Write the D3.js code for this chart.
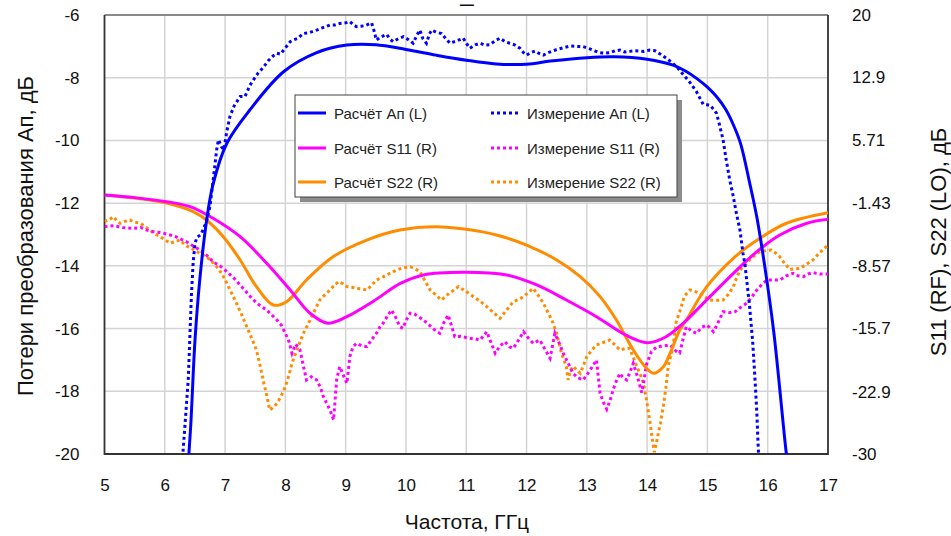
<!DOCTYPE html>
<html lang="ru">
<head>
<meta charset="utf-8" />
<title>Потери преобразования</title>
<script src="https://cdn.jsdelivr.net/npm/d3@7/dist/d3.min.js"></script>
<style>
  body { margin: 0; background: #fff; }
  text { font-family: "Liberation Sans", Arial, sans-serif; }
</style>
</head>
<body>
<script>
// ---- data (GHz / dB) ----
var xTicks = [5, 6, 7, 8, 9, 10, 11, 12, 13, 14, 15, 16, 17];
var leftTicks = [-20, -18, -16, -14, -12, -10, -8, -6];
var rightTicks = ["-30", "-22.9", "-15.7", "-8.57", "-1.43", "5.71", "12.9", "20"];

// calculated conversion loss (left axis)
var apCalcF = [6.38, 6.43, 6.50, 6.58, 6.69, 6.80, 7.03, 7.41, 7.97, 8.52, 9.02, 9.5, 10.0, 10.5, 11.0, 11.5, 12.0, 12.4, 13.0, 13.45, 14.0, 14.43, 14.65, 14.82, 15.0, 15.15, 15.3, 15.43, 15.55, 15.7, 15.82, 15.95, 16.1, 16.29, 16.34];
var apCalc = [-20.5, -19.1, -16.4, -14.45, -12.6, -11.4, -10.09, -9.03, -7.81, -7.2, -6.96, -6.95, -7.1, -7.28, -7.44, -7.56, -7.57, -7.47, -7.36, -7.33, -7.41, -7.6, -7.8, -8.02, -8.3, -8.6, -9.0, -9.5, -10.1, -11.35, -12.45, -14.0, -16.1, -19.66, -20.5];

// measured conversion loss (left axis)
var apMeasF = [6.28, 6.33, 6.39, 6.44, 6.47, 6.50, 6.53, 6.60, 6.69, 6.75, 6.80, 6.86, 6.89, 6.94, 6.98, 7.03, 7.08, 7.15, 7.25, 7.33, 7.41, 7.47, 7.55, 7.63, 7.72, 7.80, 7.86, 7.92, 8.0, 8.08, 8.13, 8.2, 8.3, 8.4, 8.52, 8.6, 8.74, 8.82, 8.9, 9.0, 9.07, 9.13, 9.18, 9.25, 9.32, 9.43, 9.47, 9.51, 9.58, 9.68, 9.74, 9.79, 9.88, 9.96, 10.05, 10.12, 10.18, 10.23, 10.28, 10.34, 10.39, 10.43, 10.5, 10.59, 10.66, 10.73, 10.85, 10.95, 11.0, 11.06, 11.15, 11.23, 11.31, 11.39, 11.48, 11.56, 11.64, 11.72, 11.8, 11.89, 11.95, 12.0, 12.07, 12.14, 12.2, 12.28, 12.36, 12.43, 12.5, 12.6, 12.72, 12.83, 12.94, 13.05, 13.14, 13.22, 13.3, 13.38, 13.47, 13.55, 13.63, 13.71, 13.8, 13.94, 14.04, 14.13, 14.22, 14.32, 14.4, 14.49, 14.6, 14.71, 14.82, 14.93, 15.04, 15.1, 15.15, 15.2, 15.26, 15.31, 15.37, 15.43, 15.48, 15.54, 15.59, 15.62, 15.66, 15.70, 15.75, 15.79, 15.82, 15.84, 15.86];
var apMeas = [-20.5, -19.2, -17.6, -15.0, -13.9, -13.3, -13.1, -13.0, -12.6, -12.1, -11.3, -10.3, -9.98, -10.2, -10.3, -9.7, -9.24, -8.9, -8.6, -8.6, -8.25, -8.07, -7.85, -7.68, -7.45, -7.3, -7.22, -7.25, -7.05, -6.85, -6.8, -6.75, -6.59, -6.56, -6.48, -6.42, -6.32, -6.32, -6.27, -6.25, -6.21, -6.32, -6.37, -6.36, -6.34, -6.25, -6.5, -6.8, -6.7, -6.62, -6.78, -6.85, -6.75, -6.69, -6.8, -6.9, -6.65, -6.48, -6.75, -6.9, -6.6, -6.48, -6.55, -6.59, -6.75, -6.9, -6.82, -6.74, -6.9, -7.06, -6.95, -6.9, -6.96, -6.95, -6.82, -6.74, -6.85, -6.9, -6.95, -7.06, -7.2, -7.28, -7.2, -7.15, -7.22, -7.28, -7.2, -7.15, -7.1, -7.05, -6.99, -7.0, -7.01, -7.08, -7.15, -7.2, -7.22, -7.2, -7.14, -7.12, -7.18, -7.16, -7.14, -7.16, -7.12, -7.14, -7.25, -7.38, -7.5, -7.65, -7.9, -8.15, -8.45, -8.85, -8.87, -9.0, -9.13, -9.5, -9.98, -10.6, -11.26, -11.8, -12.32, -12.86, -13.6, -13.92, -14.6, -15.3, -16.4, -17.64, -18.7, -19.66, -20.5];

// calculated S11, S22 (right axis)
var s11CalcF = [5, 5.5, 6.03, 6.42, 6.8, 7.25, 7.69, 8.08, 8.41, 8.7, 9.02, 9.46, 9.9, 10.29, 10.95, 11.67, 12.17, 12.66, 13.16, 13.66, 14.0, 14.3, 14.6, 15.04, 15.43, 15.82, 16.2, 16.65, 17];
var s11Calc = [-0.5, -0.8, -1.26, -1.83, -3.15, -5.25, -8.28, -11.32, -13.97, -15.1, -14.36, -12.6, -10.6, -9.61, -9.3, -9.61, -10.75, -12.46, -14.36, -16.5, -17.32, -16.7, -15.1, -12.08, -9.42, -6.96, -5.06, -3.72, -3.27];
var s22CalcF = [5, 5.5, 6.03, 6.47, 6.69, 6.97, 7.25, 7.52, 7.8, 8.02, 8.35, 8.79, 9.35, 9.9, 10.5, 11.0, 11.5, 12.0, 12.5, 12.89, 13.22, 13.49, 13.77, 13.99, 14.1, 14.27, 14.38, 14.54, 14.65, 14.99, 15.43, 15.87, 16.31, 17];
var s22Calc = [-0.5, -0.85, -1.41, -2.4, -3.35, -5.25, -7.9, -10.94, -13.03, -12.65, -10.18, -7.53, -5.63, -4.49, -4.11, -4.41, -5.06, -6.2, -7.9, -9.8, -12.08, -14.74, -18.15, -20.24, -20.8, -20.05, -18.53, -15.9, -14.74, -10.94, -7.71, -5.44, -3.72, -2.52];

// measured S11, S22 (right axis)
var s11MeasF = [5.0, 5.15, 5.3, 5.48, 5.6, 5.7, 5.81, 5.95, 6.09, 6.2, 6.36, 6.47, 6.58, 6.7, 6.8, 6.92, 7.03, 7.15, 7.25, 7.36, 7.47, 7.58, 7.69, 7.78, 7.86, 7.93, 8.0, 8.06, 8.11, 8.17, 8.24, 8.30, 8.35, 8.43, 8.52, 8.58, 8.63, 8.69, 8.74, 8.8, 8.85, 8.9, 8.96, 9.02, 9.07, 9.12, 9.18, 9.27, 9.35, 9.43, 9.51, 9.57, 9.62, 9.7, 9.76, 9.82, 9.9, 9.95, 10.0, 10.07, 10.15, 10.29, 10.4, 10.5, 10.56, 10.63, 10.7, 10.76, 10.81, 10.9, 11.06, 11.15, 11.23, 11.34, 11.41, 11.48, 11.56, 11.64, 11.72, 11.78, 11.87, 11.95, 12.03, 12.11, 12.22, 12.3, 12.39, 12.47, 12.55, 12.61, 12.7, 12.77, 12.85, 12.94, 13.05, 13.16, 13.22, 13.28, 13.33, 13.39, 13.44, 13.5, 13.55, 13.6, 13.66, 13.72, 13.77, 13.84, 13.91, 13.95, 13.99, 14.07, 14.16, 14.27, 14.38, 14.49, 14.54, 14.6, 14.65, 14.74, 14.82, 14.9, 14.99, 15.05, 15.1, 15.18, 15.26, 15.36, 15.46, 15.55, 15.65, 15.74, 15.82, 15.9, 15.99, 16.1, 16.2, 16.31, 16.42, 16.5, 16.59, 16.67, 16.75, 16.87, 17.0];
var s11Meas = [-4.11, -4.0, -4.2, -4.3, -4.2, -4.5, -4.68, -4.8, -5.06, -5.3, -5.82, -6.3, -6.76, -7.4, -8.1, -8.6, -9.23, -10.0, -10.75, -11.6, -12.46, -13.1, -13.6, -14.2, -14.74, -15.3, -16.25, -17.2, -18.53, -17.5, -18.1, -20.0, -21.57, -21.2, -21.57, -22.4, -23.47, -24.3, -24.99, -26.13, -21.57, -20.05, -21.0, -21.95, -18.9, -17.8, -17.39, -17.7, -17.78, -17.0, -16.25, -15.5, -15.11, -14.2, -13.6, -14.3, -15.5, -15.69, -14.8, -13.97, -14.1, -14.74, -15.4, -16.0, -16.25, -15.0, -14.17, -15.5, -16.64, -16.6, -16.82, -16.9, -17.02, -16.07, -17.3, -18.53, -17.7, -17.21, -17.8, -17.96, -17.0, -16.07, -16.8, -17.39, -17.02, -18.0, -19.1, -16.25, -17.5, -18.53, -19.8, -20.81, -21.3, -21.57, -20.5, -19.29, -23.09, -24.2, -24.9, -23.8, -22.6, -21.5, -20.81, -21.3, -21.57, -20.6, -19.67, -21.2, -23.0, -21.5, -19.8, -18.35, -17.78, -17.7, -17.58, -18.35, -18.5, -16.8, -15.5, -16.0, -16.25, -15.6, -15.31, -15.7, -16.07, -15.0, -13.79, -13.9, -13.79, -13.3, -12.84, -12.1, -11.32, -10.7, -10.18, -10.2, -10.18, -9.7, -9.42, -9.7, -9.8, -9.5, -9.35, -9.5, -9.5];
var s22MeasF = [5.0, 5.08, 5.15, 5.2, 5.26, 5.34, 5.42, 5.5, 5.59, 5.67, 5.75, 5.83, 5.92, 6.0, 6.09, 6.17, 6.25, 6.36, 6.45, 6.53, 6.6, 6.69, 6.77, 6.86, 6.95, 7.03, 7.11, 7.19, 7.28, 7.36, 7.44, 7.52, 7.58, 7.63, 7.69, 7.74, 7.8, 7.86, 7.93, 8.0, 8.06, 8.11, 8.19, 8.3, 8.41, 8.49, 8.57, 8.65, 8.74, 8.81, 8.88, 8.95, 9.02, 9.1, 9.18, 9.27, 9.35, 9.43, 9.51, 9.6, 9.68, 9.79, 9.85, 9.95, 10.07, 10.15, 10.23, 10.31, 10.4, 10.5, 10.59, 10.7, 10.8, 10.87, 11.0, 11.12, 11.23, 11.34, 11.45, 11.56, 11.67, 11.78, 11.87, 11.95, 12.03, 12.11, 12.2, 12.28, 12.35, 12.42, 12.5, 12.58, 12.66, 12.69, 12.73, 12.77, 12.83, 12.89, 12.95, 13.0, 13.08, 13.16, 13.27, 13.38, 13.47, 13.55, 13.63, 13.71, 13.77, 13.83, 13.89, 13.94, 13.99, 14.05, 14.09, 14.12, 14.16, 14.22, 14.27, 14.31, 14.35, 14.43, 14.48, 14.54, 14.62, 14.71, 14.8, 14.88, 14.96, 15.04, 15.15, 15.26, 15.35, 15.43, 15.48, 15.54, 15.62, 15.7, 15.78, 15.87, 15.96, 16.06, 16.13, 16.2, 16.28, 16.37, 16.45, 16.54, 16.64, 16.75, 16.87, 17.0];
var s22Meas = [-3.54, -3.3, -2.97, -3.4, -3.73, -3.5, -3.35, -3.6, -3.7, -4.1, -4.49, -4.9, -5.25, -5.6, -6.0, -5.8, -5.63, -6.3, -6.6, -6.96, -7.2, -7.53, -8.0, -8.67, -9.5, -10.56, -11.7, -12.84, -14.2, -15.5, -16.8, -18.15, -19.9, -21.57, -23.3, -24.99, -24.7, -24.23, -23.4, -22.33, -21.0, -19.67, -18.15, -16.25, -14.74, -13.6, -12.46, -11.9, -11.32, -10.8, -10.37, -10.6, -10.94, -11.0, -11.13, -11.2, -11.32, -10.8, -10.18, -9.9, -9.61, -9.23, -9.04, -8.8, -8.67, -8.9, -9.23, -10.2, -11.32, -11.9, -12.46, -11.8, -11.3, -10.94, -11.5, -12.08, -12.6, -13.22, -13.9, -14.55, -13.6, -12.65, -12.4, -12.08, -11.6, -11.13, -12.0, -12.84, -13.8, -14.74, -16.25, -18.53, -20.05, -21.57, -20.5, -20.0, -20.4, -20.81, -19.8, -18.9, -18.2, -17.58, -17.3, -17.02, -17.6, -18.15, -18.0, -17.96, -19.0, -20.05, -21.0, -21.95, -23.85, -26.5, -28.5, -29.8, -28.5, -26.5, -24.5, -22.5, -20.0, -17.78, -15.0, -13.8, -12.0, -11.32, -11.5, -11.7, -12.1, -12.46, -12.5, -12.46, -11.8, -10.94, -10.0, -9.04, -8.5, -7.9, -7.4, -6.96, -6.85, -6.77, -7.1, -7.53, -8.3, -9.0, -8.9, -8.85, -8.4, -7.9, -7.0, -6.2];

// ---- layout ----
var w = 951, h = 536;
var plot = { left: 104.5, right: 828, top: 15, bottom: 454 };
var blue = "#0000ff", pink = "#ff00ff", orange = "#ff8c00";

var svg = d3.select("body").append("svg")
  .attr("width", w).attr("height", h);

var x = d3.scaleLinear().domain([5, 17]).range([plot.left, plot.right]);
var yL = d3.scaleLinear().domain([-20, -6]).range([plot.bottom, plot.top]);
var yR = d3.scaleLinear().domain([-30, 20]).range([plot.bottom, plot.top]);

svg.append("defs").append("clipPath").attr("id", "clip")
  .append("rect")
  .attr("x", plot.left).attr("y", plot.top)
  .attr("width", plot.right - plot.left).attr("height", plot.bottom - plot.top);

// grid
var grid = svg.append("g").attr("stroke", "#d4d4d4").attr("stroke-width", 1.5);
grid.selectAll("line.v").data(xTicks.slice(1, -1)).enter().append("line")
  .attr("x1", function(d) { return x(d); }).attr("x2", function(d) { return x(d); })
  .attr("y1", plot.top).attr("y2", plot.bottom);
grid.selectAll("line.h").data(leftTicks.slice(1, -1)).enter().append("line")
  .attr("x1", plot.left).attr("x2", plot.right)
  .attr("y1", function(d) { return yL(d); }).attr("y2", function(d) { return yL(d); });

// frame
svg.append("line").attr("x1", plot.left).attr("x2", plot.right)
  .attr("y1", plot.top).attr("y2", plot.top)
  .attr("stroke", "#8a8a8a").attr("stroke-width", 2);
svg.append("path")
  .attr("d", "M" + plot.left + "," + plot.top + "V" + plot.bottom + "H" + plot.right + "V" + plot.top)
  .attr("fill", "none").attr("stroke", "#333").attr("stroke-width", 1.8);

// series
function pts(fs, vs) { return fs.map(function(f, i) { return [f, vs[i]]; }); }
function lineFor(ys, curve) {
  return d3.line().x(function(d) { return x(d[0]); }).y(function(d) { return ys(d[1]); }).curve(curve);
}
var series = [
  { data: pts(s22MeasF, s22Meas), y: yR, color: orange, dotted: true },
  { data: pts(s11MeasF, s11Meas), y: yR, color: pink, dotted: true },
  { data: pts(s22CalcF, s22Calc), y: yR, color: orange, dotted: false },
  { data: pts(s11CalcF, s11Calc), y: yR, color: pink, dotted: false },
  { data: pts(apMeasF, apMeas), y: yL, color: blue, dotted: true },
  { data: pts(apCalcF, apCalc), y: yL, color: blue, dotted: false }
];
var lines = svg.append("g").attr("clip-path", "url(#clip)");
series.forEach(function(s) {
  lines.append("path")
    .attr("d", lineFor(s.y, s.dotted ? d3.curveLinear : d3.curveCatmullRom.alpha(0.5))(s.data))
    .attr("fill", "none")
    .attr("stroke", s.color)
    .attr("stroke-width", 3)
    .attr("stroke-dasharray", s.dotted ? "3,3" : null);
});

// axes
var fontSize = "17px";
var gx = svg.append("g").attr("transform", "translate(0," + plot.bottom + ")")
  .call(d3.axisBottom(x).tickValues(xTicks).tickSize(0).tickPadding(25).tickFormat(String));
var gl = svg.append("g").attr("transform", "translate(" + plot.left + ",0)")
  .call(d3.axisLeft(yL).tickValues(leftTicks).tickSize(0).tickPadding(25).tickFormat(String));
var gr = svg.append("g").attr("transform", "translate(" + plot.right + ",0)")
  .call(d3.axisRight(yR).tickValues(rightTicks.map(Number)).tickSize(0).tickPadding(24)
    .tickFormat(function(d, i) { return rightTicks[i]; }));
[gx, gl, gr].forEach(function(g) {
  g.select(".domain").remove();
  g.selectAll("text").attr("font-size", fontSize).attr("fill", "#111")
    .attr("font-family", "'Liberation Sans', Arial, sans-serif");
});

// axis titles
svg.append("text").text("Частота, ГГц")
  .attr("x", 467).attr("y", 529).attr("text-anchor", "middle")
  .attr("font-size", "21px").attr("fill", "#111");
svg.append("text").text("Потери преобразования Ап, дБ")
  .attr("transform", "translate(33,236) rotate(-90)").attr("text-anchor", "middle")
  .attr("font-size", "22px").attr("fill", "#111");
svg.append("text").text("S11 (RF), S22 (LO), дБ")
  .attr("transform", "translate(946,242) rotate(-90)").attr("text-anchor", "middle")
  .attr("font-size", "22px").attr("fill", "#111");

// cut-off title remnant at the top edge
svg.append("text").text("_")
  .attr("x", 467).attr("y", 1).attr("text-anchor", "middle")
  .attr("font-size", "24px").attr("fill", "#111");

// legend
var legendItems = [
  { label: "Расчёт Ап (L)", color: blue, dotted: false, col: 0, row: 0 },
  { label: "Расчёт S11 (R)", color: pink, dotted: false, col: 0, row: 1 },
  { label: "Расчёт S22 (R)", color: orange, dotted: false, col: 0, row: 2 },
  { label: "Измерение Ап (L)", color: blue, dotted: true, col: 1, row: 0 },
  { label: "Измерение S11 (R)", color: pink, dotted: true, col: 1, row: 1 },
  { label: "Измерение S22 (R)", color: orange, dotted: true, col: 1, row: 2 }
];
var lg = { x: 295, y: 95, w: 382, h: 102 };
svg.append("rect").attr("x", lg.x + 5).attr("y", lg.y + 5)
  .attr("width", lg.w).attr("height", lg.h).attr("fill", "#8c8c8c");
svg.append("rect").attr("x", lg.x).attr("y", lg.y)
  .attr("width", lg.w).attr("height", lg.h)
  .attr("fill", "#fff").attr("stroke", "#404040").attr("stroke-width", 1);
var colX = [298, 491], rowY = [113, 148, 182];
var items = svg.append("g").selectAll("g").data(legendItems).enter().append("g")
  .attr("transform", function(d) { return "translate(" + colX[d.col] + "," + rowY[d.row] + ")"; });
items.append("line")
  .attr("x1", 0).attr("x2", function(d) { return d.dotted ? 27 : 28; })
  .attr("y1", 0).attr("y2", 0)
  .attr("stroke", function(d) { return d.color; })
  .attr("stroke-width", 3)
  .attr("stroke-dasharray", function(d) { return d.dotted ? "3,3" : null; });
items.append("text")
  .text(function(d) { return d.label; })
  .attr("x", 36)
  .attr("y", 5.5)
  .attr("font-size", "15px").attr("fill", "#222");
</script>
</body>
</html>
